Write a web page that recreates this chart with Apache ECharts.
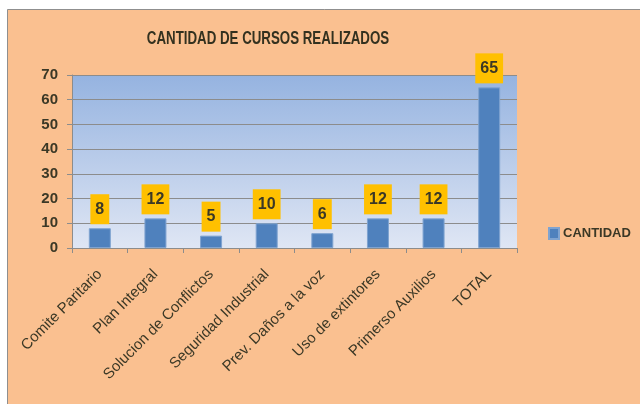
<!DOCTYPE html>
<html>
<head>
<meta charset="utf-8">
<script src="https://cdn.jsdelivr.net/npm/echarts@6/dist/echarts.min.js"></script>
<style>
  html, body { margin: 0; padding: 0; background: #fff; }
  #chart { width: 640px; height: 404px; }
</style>
</head>
<body>
<div id="chart"></div>
<script>
// datos del grafico
const categories = ['Comite Paritario', 'Plan Integral', 'Solucion de Conflictos', 'Seguridad Industrial',
  'Prev. Daños a la voz', 'Uso de extintores', 'Primerso Auxilios', 'TOTAL']
const cantidad = [8, 12, 5, 10, 6, 12, 12, 65]
const yTicks = { min: 0, max: 70, interval: 10 }
const titulo = 'CANTIDAD DE CURSOS REALIZADOS'

const textColor = '#3b3826'
const gridColor = '#8c8c8c'

let mychart = echarts.init(document.getElementById('chart'))
mychart.setOption({
  animation: false,
  backgroundColor: '#fff',
  graphic: [
    {
      type: 'rect',
      z: -10,
      shape: { x: 7.5, y: 9.5, width: 640, height: 400 },
      style: { fill: '#FAC090', stroke: '#8f8f8f', lineWidth: 1 },
    },
    {
      // titulo estrecho (tipo Calibri)
      type: 'text',
      x: 268,
      y: 39,
      scaleX: 0.7,
      style: {
        text: titulo,
        align: 'center',
        verticalAlign: 'middle',
        fill: '#33311f',
        font: 'bold 19px "Liberation Sans", sans-serif',
      },
    },
  ],
  legend: {
    left: 543,
    top: 222,
    icon: 'rect',
    itemWidth: 10,
    itemHeight: 11,
    itemGap: 4,
    data: ['CANTIDAD'],
    textStyle: {
      color: textColor,
      fontSize: 13,
      fontWeight: 'bold',
      fontFamily: '"Liberation Sans", sans-serif',
      padding: [0, 0, 0, -1],
    },
  },
  grid: {
    left: 72,
    right: 123,
    top: 75,
    bottom: 156,
    show: true,
    borderWidth: 0,
    backgroundColor: {
      type: 'linear',
      x: 0, y: 0, x2: 0, y2: 1,
      colorStops: [
        { offset: 0, color: '#95B3E0' }, // arriba
        { offset: 1, color: '#DFE6F4' }, // abajo
      ],
    },
  },
  xAxis: {
    type: 'category',
    data: categories,
    axisLine: { show: true, lineStyle: { color: gridColor } },
    axisTick: { show: true, length: 5, lineStyle: { color: gridColor } },
    axisLabel: {
      rotate: 45,
      interval: 0,
      margin: 24,
      color: textColor,
      fontSize: 15,
      fontFamily: '"Liberation Sans", sans-serif',
    },
  },
  yAxis: {
    type: 'value',
    min: yTicks.min,
    max: yTicks.max,
    interval: yTicks.interval,
    axisLine: { show: true, lineStyle: { color: gridColor } },
    axisTick: { show: true, length: 5, lineStyle: { color: gridColor } },
    splitLine: { show: true, lineStyle: { color: gridColor, width: 1 } },
    axisLabel: {
      margin: 14,
      color: textColor,
      fontSize: 15,
      fontWeight: 'bold',
      fontFamily: '"Liberation Sans", sans-serif',
    },
  },
  series: [
    {
      name: 'CANTIDAD',
      type: 'bar',
      data: cantidad,
      barWidth: 22,
      itemStyle: { color: '#4F81BD', borderColor: '#7FA3D0', borderWidth: 1 },
      label: {
        show: true,
        position: 'top',
        distance: 4,
        backgroundColor: '#FFC000',
        padding: [7, 5, 7, 5],
        color: textColor,
        fontSize: 16,
        lineHeight: 16,
        fontWeight: 'bold',
        fontFamily: '"Liberation Sans", sans-serif',
      },
    },
  ],
})
</script>
</body>
</html>
